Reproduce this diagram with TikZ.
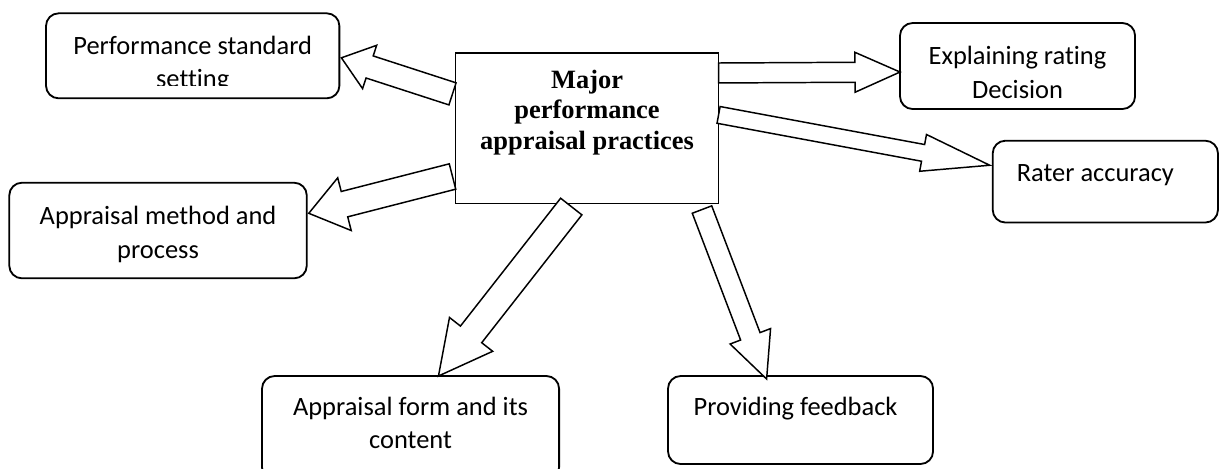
\documentclass[tikz,border=0pt]{standalone}
\usepackage{fontspec}
\setmainfont{Carlito}[Ligatures=NoCommon]
\newfontfamily\timesfam{Liberation Serif}
\usetikzlibrary{calc}
\tikzset{
  rbox/.style={draw, line width=1.3pt, rounded corners=9pt, anchor=north west, inner sep=0pt, outer sep=0pt},
  cbox/.style={draw, line width=1.3pt, anchor=north west, inner sep=0pt, outer sep=0pt},
  lbl/.style={font=\fontsize{18.8}{23.5}\selectfont, align=center, anchor=base, inner sep=0pt},
  clbl/.style={font=\timesfam\bfseries\fontsize{18.8}{21.7}\selectfont, align=center, anchor=base, inner sep=0pt},
  barrow/.style={draw, fill=white, line width=1.05pt, line join=miter},
}
% #1 tail, #2 tip, #3 shaft half width, #4 head half width, #5 head length
\newcommand{\blockarrow}[5]{%
  \path ($(#2)!#5!(#1)$) coordinate (hb);
  \draw[barrow] ($(#1)!#3!90:(#2)$) -- ($(hb)!#3!90:(#2)$) -- ($(hb)!#4!90:(#2)$) -- (#2)
    -- ($(hb)!#4!-90:(#2)$) -- ($(hb)!#3!-90:(#2)$) -- ($(#1)!#3!-90:(#2)$) -- cycle;}
\begin{document}
\begin{tikzpicture}[x=0.025cm, y=-0.025cm]
\clip (0,0) rectangle (1220,468);
% boxes
\node[rbox, minimum width=7.333cm, minimum height=2.125cm] (p1) at (46,13.3) {};
\node[cbox, minimum width=6.575cm, minimum height=3.755cm] (c) at (455.5,53.3) {};
\node[rbox, minimum width=5.875cm, minimum height=2.15cm] (e) at (900,23) {};
\node[rbox, minimum width=5.63cm, minimum height=2.045cm] (r) at (992.7,140.7) {};
\node[rbox, minimum width=7.435cm, minimum height=2.39cm] (amp) at (9.3,182.7) {};
\node[rbox, minimum width=7.425cm, minimum height=2.6cm] (f) at (262,376) {};
\node[rbox, minimum width=6.625cm, minimum height=2.2cm] (pf) at (668,376) {};
% arrow ends
\coordinate (s1) at ($(c.north west)!0.27!(c.south west)+(-3,0)$);
\coordinate (e1) at ($(p1.east)+(2,2)$);
\coordinate (s2) at ($(c.north east)!0.131!(c.south east)$);
\coordinate (e2) at ($(e.north west)!0.57!(e.south west)$);
\coordinate (s3) at ($(c.north east)!0.41!(c.south east)$);
\coordinate (e3) at ($(r.north west)!0.3!(r.south west)+(-3,0)$);
\coordinate (s4) at ($(c.north west)!0.82!(c.south west)+(-3,0)$);
\coordinate (e4) at ($(amp.north east)!0.32!(amp.south east)+(2,0)$);
\coordinate (s5) at ($(c.south west)!0.44!(c.south east)+(0,3)$);
\coordinate (e5) at ($(f.north west)!0.594!(f.north east)$);
\coordinate (s6) at ($(c.south west)!0.937!(c.south east)+(0,6)$);
\coordinate (e6) at ($(pf.north west)!0.372!(pf.north east)+(0,3)$);
% block arrows
\blockarrow{s1}{e1}{8.25pt}{16.2pt}{21.1pt}
\blockarrow{s2}{e2}{7.1pt}{14.2pt}{32pt}
\blockarrow{s3}{e3}{6.05pt}{13.3pt}{48.2pt}
\blockarrow{s4}{e4}{9.3pt}{19.35pt}{26.2pt}
\blockarrow{s5}{e5}{9.6pt}{19.5pt}{37.6pt}
\blockarrow{s6}{e6}{7.4pt}{15.4pt}{32.5pt}
% texts (anchor base = baseline of the last line)
\begin{scope}
  \clip (p1.north west) rectangle ($(p1.north east)+(0,72)$);
  \node[lbl] (p1t) at ($(p1.north)+(0,74)$) {Performance standard\\setting};
\end{scope}
\node[clbl] (ct) at ($(c.north)+(0,96)$) {Major\\performance\\appraisal practices};
\node[lbl] (et) at ($(e.north)+(0,75)$) {Explaining rating\\Decision};
\node[lbl] (rt) at ($(r.north)+(-10,40.5)$) {Rater accuracy};
\node[lbl] (ampt) at ($(amp.north)+(0,75.3)$) {Appraisal method and\\process};
\node[lbl] (ft) at ($(f.north)+(0,72.5)$) {Appraisal form and its\\content};
\node[lbl] (pft) at ($(pf.north)+(-5,39.5)$) {Providing feedback};
\end{tikzpicture}
\end{document}
